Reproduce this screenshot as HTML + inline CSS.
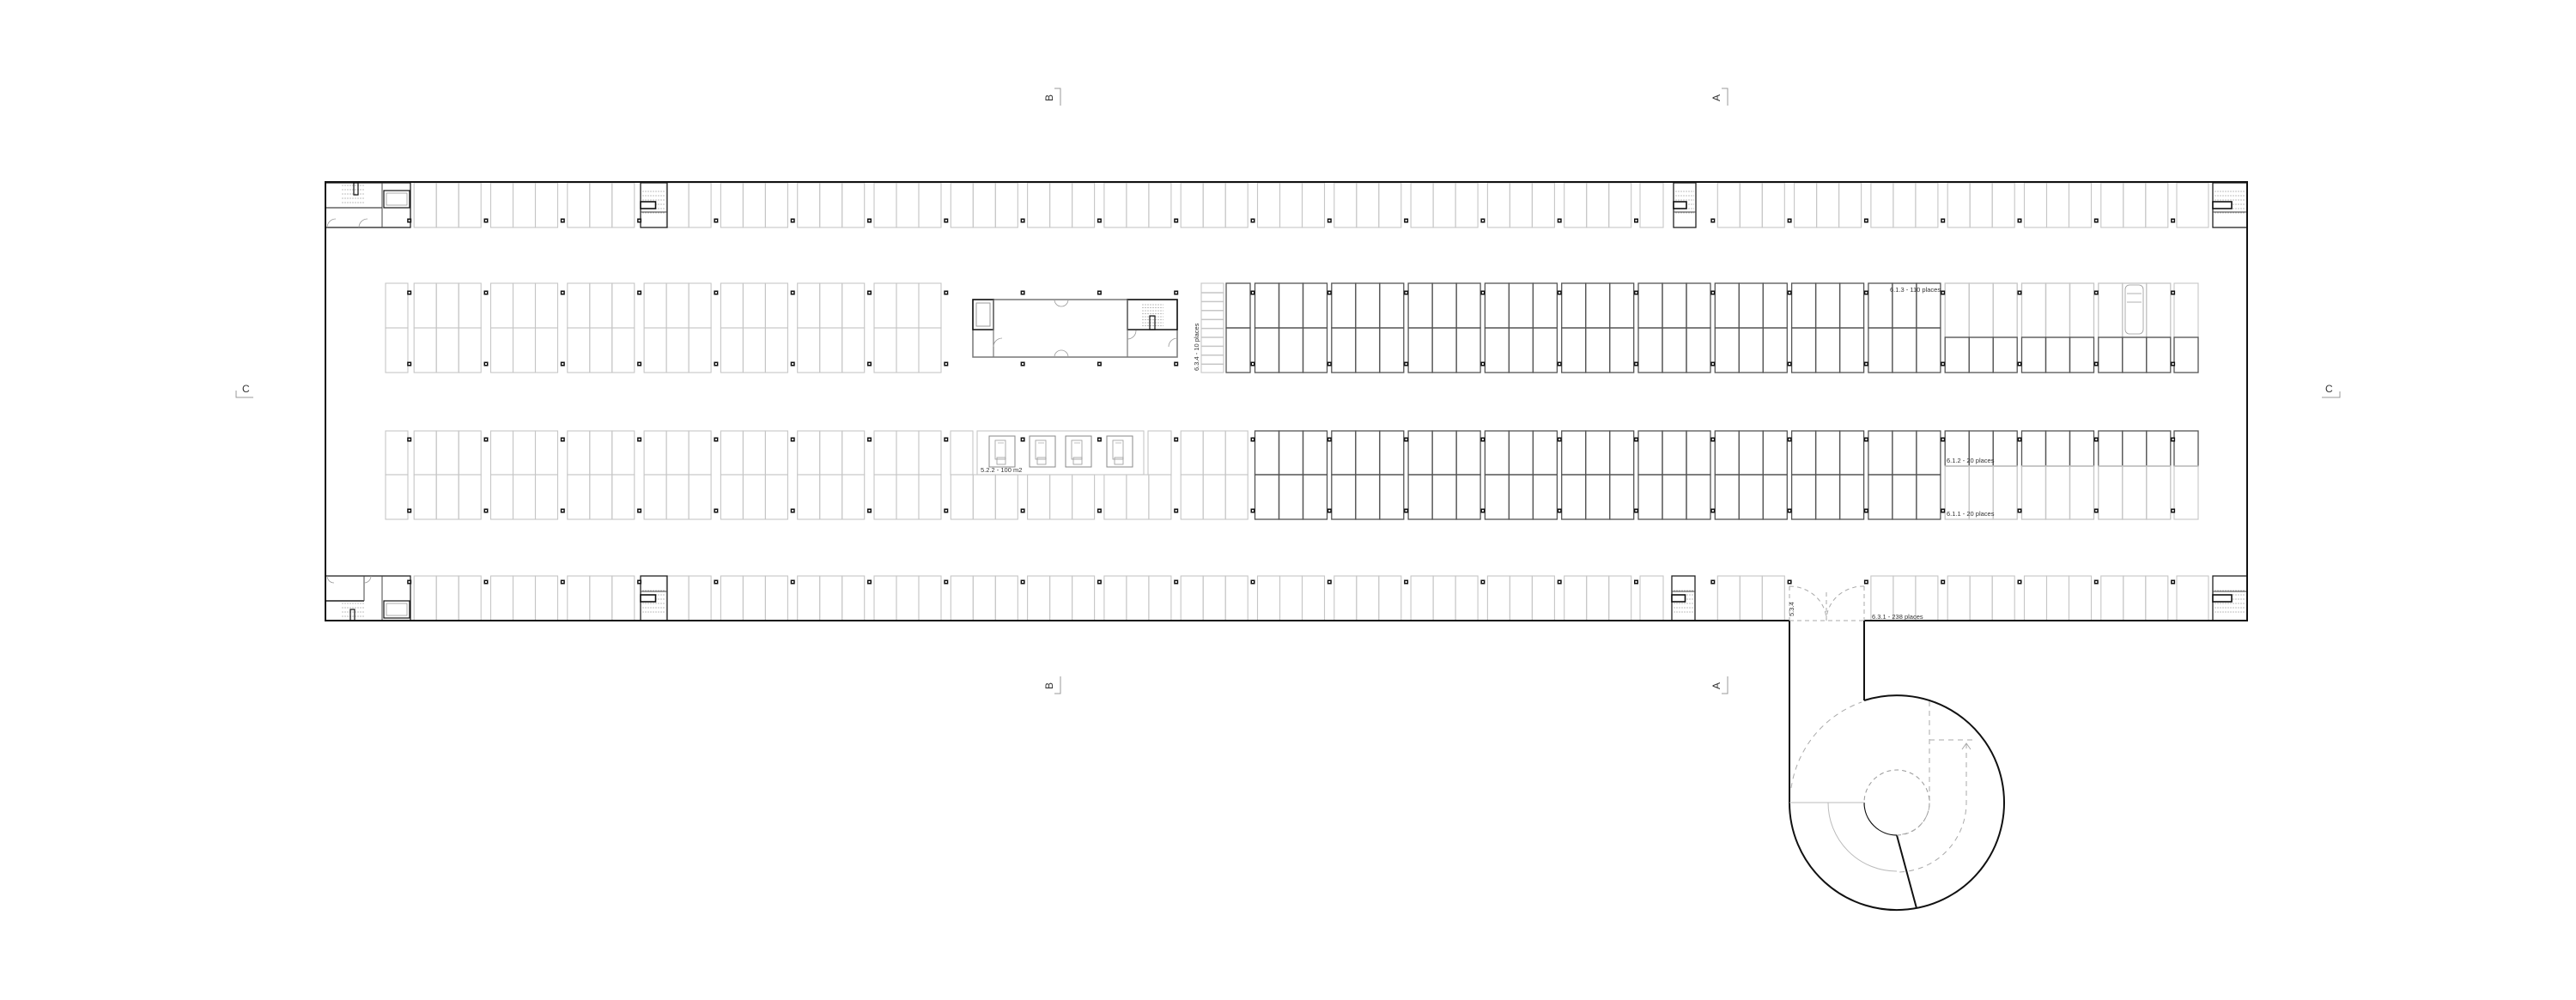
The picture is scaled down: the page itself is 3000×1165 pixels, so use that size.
<!DOCTYPE html>
<html><head><meta charset="utf-8">
<style>
html,body{margin:0;padding:0;background:#fff;}
svg{display:block;}
text{font-family:"Liberation Sans",sans-serif;fill:#333;}
</style></head>
<body>
<svg id="s" width="3000" height="1165" viewBox="0 0 3000 1165" xmlns="http://www.w3.org/2000/svg">
<rect width="3000" height="1165" fill="#fff"/>
<g id="g"></g>
<!-- building outline -->
<path d="M2084,723 L379,723 L379,212 L2617,212 L2617,723 L2171,723" fill="none" stroke="#111" stroke-width="2"/>
<!-- ramp -->
<line x1="2084" y1="723" x2="2084" y2="935" stroke="#111" stroke-width="2"/>
<line x1="2171" y1="723" x2="2171" y2="816" stroke="#111" stroke-width="2"/>
<path d="M2171,816 A125,125 0 1 1 2084,935" fill="none" stroke="#111" stroke-width="2"/>
<line x1="2209" y1="973" x2="2232" y2="1058" stroke="#111" stroke-width="2"/>
<path d="M2171,935 A38,38 0 0 0 2209,973" fill="none" stroke="#111" stroke-width="1.2"/>
<path d="M2209,973 A38,38 0 1 0 2171,935" fill="none" stroke="#999" stroke-width="1" stroke-dasharray="5,4"/>
<line x1="2084" y1="935" x2="2171" y2="935" stroke="#bbb" stroke-width="1"/>
<path d="M2129,935 A80,80 0 0 0 2209,1015" fill="none" stroke="#bbb" stroke-width="1"/>
<path d="M2086,918 A125,125 0 0 1 2168,818" fill="none" stroke="#aaa" stroke-width="1" stroke-dasharray="6,5"/>
<path d="M2247,817 L2247,930 A38,38 0 0 1 2215,972" fill="none" stroke="#aaa" stroke-width="1" stroke-dasharray="6,5"/>
<line x1="2247" y1="862" x2="2301" y2="862" stroke="#aaa" stroke-width="1" stroke-dasharray="6,5"/>
<path d="M2290,866 L2290,935 A81,81 0 0 1 2212,1016" fill="none" stroke="#aaa" stroke-width="1" stroke-dasharray="6,5"/>
<path d="M2285,873 L2290,866 L2295,873" fill="none" stroke="#aaa" stroke-width="1"/>
<line x1="2084" y1="723" x2="2171" y2="723" stroke="#aaa" stroke-width="1" stroke-dasharray="5,4"/>
<line x1="2127" y1="690" x2="2127" y2="723" stroke="#aaa" stroke-width="1" stroke-dasharray="5,4"/>
<path d="M2084,683 A43,40 0 0 1 2127,723" fill="none" stroke="#aaa" stroke-width="1" stroke-dasharray="5,4"/>
<path d="M2171,683 A43,40 0 0 0 2127,723" fill="none" stroke="#aaa" stroke-width="1" stroke-dasharray="5,4"/>
<line x1="2084" y1="683" x2="2084" y2="723" stroke="#aaa" stroke-width="1" stroke-dasharray="5,4"/>
<line x1="2171" y1="683" x2="2171" y2="723" stroke="#aaa" stroke-width="1" stroke-dasharray="5,4"/>

<!-- labels -->
<text x="2201" y="340" font-size="7.5">6.1.3 - 110 places</text>
<text x="2267" y="539" font-size="7.5">6.1.2 - 20 places</text>
<text x="2267" y="601" font-size="7.5">6.1.1 - 20 places</text>
<text x="2180" y="721" font-size="7.5">6.3.1 - 238 places</text>
<text x="1142" y="550" font-size="7.5">5.2.2 - 100 m2</text>
<text transform="translate(1396,432) rotate(-90)" font-size="7.5">6.3.4 - 10 places</text>
<text transform="translate(2089,718) rotate(-90)" font-size="7.5">5.3.4</text>

<!-- section markers -->
<text transform="translate(1226,118) rotate(-90)" font-size="12">B</text>
<path d="M1228,103 L1235,103 L1235,123" fill="none" stroke="#999" stroke-width="1"/>
<text transform="translate(2003,118) rotate(-90)" font-size="12">A</text>
<path d="M2005,103 L2012,103 L2012,123" fill="none" stroke="#999" stroke-width="1"/>
<text transform="translate(1226,803) rotate(-90)" font-size="12">B</text>
<path d="M1228,808 L1235,808 L1235,788" fill="none" stroke="#999" stroke-width="1"/>
<text transform="translate(2003,803) rotate(-90)" font-size="12">A</text>
<path d="M2005,808 L2012,808 L2012,788" fill="none" stroke="#999" stroke-width="1"/>
<text x="282" y="457" font-size="12">C</text>
<path d="M275,455 L275,463 L295,463" fill="none" stroke="#999" stroke-width="1"/>
<text x="2708" y="457" font-size="12">C</text>
<path d="M2704,463 L2725,463 L2725,456" fill="none" stroke="#999" stroke-width="1"/>
</svg>
<script>
var g=document.getElementById('g');var NS='http://www.w3.org/2000/svg';
function el(t,a){var e=document.createElementNS(NS,t);for(var k in a)e.setAttribute(k,a[k]);g.appendChild(e);return e;}
function R(x,y,w,h,st,sw,f,d){var a={x:x,y:y,width:w,height:h,fill:f||'none',stroke:st||'none','stroke-width':sw||1};if(d)a['stroke-dasharray']=d;return el('rect',a);}
function L(x1,y1,x2,y2,st,sw,d){var a={x1:x1,y1:y1,x2:x2,y2:y2,stroke:st,'stroke-width':sw||1};if(d)a['stroke-dasharray']=d;return el('line',a);}
var LC='#c6c6c6',DC='#555';
function P(k){return 476.7+89.3*k;}
function LG(k,y1,y2,skip){for(var i=0;i<3;i++){if(skip&&skip.indexOf(i)>=0)continue;R(P(k)+5.5+26*i,y1,26,y2-y1,LC,1.1);}}
function DG(k,y1,y2,c){for(var i=0;i<3;i++)R(P(k)+2.5+28*i,y1,28,y2-y1,c||DC,1.3);}
function pil(x,y){R(x-2.5,y-2.5,5,5,null,0,'#111');R(x-1,y-1,2,2,null,0,'#fff');}
var k,i;
// Top row
for(k=0;k<=22;k++){
 if(k==3){LG(k,213,265,[0]);continue;}
 if(k==16){R(1910,213,27,52,LC,1.1);continue;}
 LG(k,213,265);
}
R(2535,213,37,52,LC,1.1);
// Bottom row
for(k=0;k<=22;k++){
 if(k==18)continue;
 if(k==3){LG(k,671,723,[0]);continue;}
 if(k==16){R(1910,671,27,52,LC,1.1);continue;}
 LG(k,671,723);
}
R(2535,671,37,52,LC,1.1);
for(k=0;k<=23;k++){pil(P(k),257);pil(P(k),678);}
// Block 1
R(449,330,26,52,LC,1.1);R(449,382,26,52,LC,1.1);
R(449,502,26,51,LC,1.1);R(449,553,26,52,LC,1.1);
for(k=0;k<=6;k++){LG(k,330,382);LG(k,382,434);LG(k,502,553);LG(k,553,605);}
// motorcycles
R(1399,330,26,104,LC,1.1);
for(var y=341;y<434;y+=10.4)L(1399,y,1425,y,LC,1.5);
R(1428,330,28,52,DC,1.3);R(1428,382,28,52,DC,1.3);
for(k=11;k<=19;k++){DG(k,330,382);DG(k,382,434);DG(k,502,553);DG(k,553,605);}
for(k=20;k<=22;k++){DG(k,330,393,LC);DG(k,393,434);DG(k,502,543);DG(k,543,605,LC);}
R(2532,330,28,63,LC,1.1);R(2532,393,28,41,DC,1.3);
R(2532,502,28,41,DC,1.3);R(2532,543,28,62,LC,1.1);
// Block 2 special
R(1107,502,26,51,LC,1.1);R(1337,502,27,51,LC,1.1);
R(1138,502,194,51,LC,1.1);
for(k=7;k<=9;k++)LG(k,553,605);
LG(10,502,553);LG(10,553,605);
[1152,1199,1241,1289].forEach(function(x){R(x,508,30,36,'#888',1);R(x+7,513,12,22,'#999',0.8);R(x+9,533,10,8,'#999',0.8);L(x+10,516,x+17,516,'#999',0.6);});
for(k=0;k<=23;k++){pil(P(k),341);pil(P(k),424);pil(P(k),512);pil(P(k),595);}
// Middle core
R(1133,349,238,67,'#777',1.5);
R(1133,349,24,35,'#111',1.5);R(1137,353,16,27,'#999',1);
L(1157,349,1157,416,'#777',1.2);
R(1313,349,58,35,'#111',1.5);L(1313,349,1313,416,'#777',1.2);
for(i=0;i<8;i++)L(1330,355+i*3.5,1355,355+i*3.5,'#aaa',0.8,'2,1');
R(1339,368,6,16,'#111',1.2);
el('path',{d:'M1228,349 a8,8 0 0 0 8,8 M1244,349 a8,8 0 0 1 -8,8 M1228,416 a8,8 0 0 1 8,-8 M1244,416 a8,8 0 0 0 -8,-8 M1157,404 a10,10 0 0 1 10,-10 M1361,404 a10,10 0 0 1 10,-10 M1313,395 a10,10 0 0 0 10,-10',fill:'none',stroke:'#999','stroke-width':0.8});
// car
el('rect',{x:2475,y:332,width:21,height:57,rx:5,fill:'none',stroke:'#999','stroke-width':0.8});
L(2477,342,2494,342,'#999',0.7);L(2477,352,2494,352,'#999',0.7);
// cores
function core(x,y,w,h,flip){R(x,y,w,h,'#222',1.3);
 for(var i=0;i<6;i++)L(x+2,y+(flip?h-10-i*5:10+i*5),x+w-2,y+(flip?h-10-i*5:10+i*5),'#aaa',0.8,'2,1');
 R(x,y+h/2-4,w/2+2,8,'#111',1.6,'#fff');
 L(x,y+(flip?18:h-18),x+w,y+(flip?18:h-18),'#444',1);}
core(746,213,31,52,false);core(746,671,31,52,true);
core(1949,213,26,52,false);core(1947,671,27,52,true);
core(2577,213,40,52,false);core(2577,671,40,52,true);
// left cores
R(379,213,99,52,'#222',1.3);L(445,213,445,265,'#444',1);L(379,242,445,242,'#444',1.2);
R(447,222,30,20,'#111',1.2);R(450,225,24,14,'#999',0.8);
for(i=0;i<5;i++)L(398,216+i*5,425,216+i*5,'#aaa',0.8,'2,1');R(412,213,5,14,'#111',1.2);
R(379,671,99,52,'#222',1.3);L(424,671,424,700,'#444',1);L(379,700,424,700,'#555',2);L(445,671,445,723,'#444',1);
R(447,700,30,20,'#111',1.2);R(450,703,24,14,'#999',0.8);
for(i=0;i<5;i++)L(398,703+i*5,425,703+i*5,'#aaa',0.8,'2,1');R(408,710,5,13,'#111',1.2);
el('path',{d:'M381,265 a10,10 0 0 1 10,-10 M418,265 a10,10 0 0 1 10,-10 M381,671 a8,8 0 0 0 8,8 M432,671 a8,8 0 0 1 -8,8',fill:'none',stroke:'#999','stroke-width':0.8});
</script>
</body></html>
